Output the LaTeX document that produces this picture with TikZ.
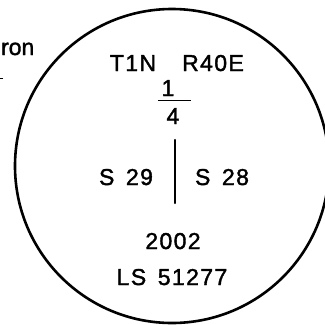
\documentclass[tikz,border=0pt]{standalone}
\usepackage{fontspec}
\setmainfont{Liberation Sans}[LetterSpace=6,FakeBold=1.6]
\begin{document}
\begin{tikzpicture}[x=1pt,y=-1pt,
  lbl/.style={inner sep=0pt,anchor=base,font=\fontsize{23}{27}\selectfont},
  ink/.style={line width=2.2pt,line cap=round}]
\useasboundingbox (0,0) rectangle (325,325);
% plat circle
\draw[line width=2.6pt] (172,166) circle[radius=157pt];
% outside fragment
\node[lbl,anchor=base east,font=\fontsize{23}{27}\selectfont\addfontfeature{LetterSpace=0}] (ron) at (34.5,55) {ron};
\coordinate (d1) at (0,78.5);
\coordinate (d2) at (3,78.5);
\draw[line width=1.6pt] (d1) -- (d2);
% texts
\node[lbl] (twp) at (133,71) {T1N};
\node[lbl] (rng) at (213,71) {R40E};
\node[lbl] (num) at (168,96) {1};
\coordinate (b1) at (158,100.5);
\coordinate (b2) at (191,100.5);
\draw[line width=1.8pt] (b1) -- (b2);
\node[lbl] (den) at (173,124) {4};
\coordinate (v1) at (175,140);
\coordinate (v2) at (175,203);
\draw[ink] (v1) -- (v2);
\node[lbl] (s29) at (126,185) {S\ \,29};
\node[lbl] (s28) at (222,185) {S\ \,28};
\node[lbl] (yr) at (173,249) {2002};
\node[lbl] (ls) at (172,285) {LS\ \,51277};
\end{tikzpicture}
\end{document}
